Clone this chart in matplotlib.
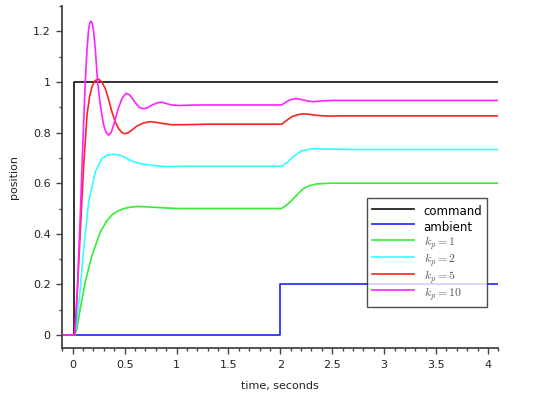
import matplotlib
matplotlib.use("Agg")
import matplotlib.pyplot as plt
from matplotlib.ticker import MultipleLocator, FuncFormatter

plt.rcParams['font.family'] = ['DejaVu Sans']
plt.rcParams['mathtext.fontset'] = 'cm'

# step inputs
t_command = [-0.1, 0.01, 0.01, 4.1]
command = [0, 0, 1, 1]

t_ambient = [-0.1, 2.0, 2.0, 4.1]
ambient = [0, 0, 0.2, 0.2]

# responses
t_kp1 = [-0.1, 0.019, 0.041, 0.073, 0.121, 0.186, 0.266, 0.33, 0.379, 0.43, 0.48,
         0.54, 0.617, 0.7, 0.776, 0.9, 1.03, 1.3, 2.013, 2.065, 2.125, 2.17, 2.22,
         2.28, 2.35, 2.48, 2.7, 4.1]
pos_kp1 = [0, 0, 0.026, 0.105, 0.21, 0.315, 0.407, 0.452, 0.475, 0.489, 0.498,
           0.504, 0.508, 0.507, 0.505, 0.502, 0.5, 0.5, 0.5, 0.515, 0.538, 0.558, 0.578,
           0.59, 0.597, 0.6, 0.6, 0.6]

t_kp2 = [-0.1, 0.019, 0.041, 0.073, 0.106, 0.154, 0.218, 0.282, 0.33, 0.379, 0.417,
         0.46, 0.51, 0.568, 0.64, 0.73, 0.89, 1.1, 2.013, 2.06, 2.12, 2.2, 2.3, 2.45,
         2.7, 4.1]
pos_kp2 = [0, 0, 0.053, 0.184, 0.342, 0.526, 0.645, 0.698, 0.71, 0.714, 0.714,
           0.71, 0.7, 0.688, 0.678, 0.672, 0.666, 0.667, 0.667, 0.68, 0.703, 0.727, 0.736, 0.735,
           0.733, 0.733]

t_kp5 = [-0.1, 0.019, 0.041, 0.073, 0.106, 0.138, 0.162, 0.186, 0.215, 0.247, 0.28,
         0.314, 0.345, 0.379, 0.41, 0.443, 0.475, 0.497, 0.53, 0.57, 0.62, 0.68, 0.745,
         0.81, 0.88, 0.95, 1.05, 1.3, 2.013, 2.06, 2.11, 2.16, 2.22, 2.28, 2.35, 2.46,
         2.6, 4.1]
pos_kp5 = [0, 0, 0.145, 0.408, 0.672, 0.87, 0.94, 0.981, 1.005, 1.012, 1.0,
           0.974, 0.932, 0.88, 0.842, 0.815, 0.8, 0.796, 0.798, 0.81, 0.826, 0.838, 0.843,
           0.84, 0.835, 0.831, 0.831, 0.833, 0.833, 0.848, 0.862, 0.87, 0.874, 0.872, 0.868, 0.865,
           0.866, 0.866]

t_kp10 = [-0.1, 0.019, 0.032, 0.048, 0.073, 0.096, 0.121, 0.138, 0.154, 0.166, 0.176,
          0.188, 0.2, 0.218, 0.24, 0.266, 0.298, 0.322, 0.347, 0.37, 0.395, 0.435, 0.475,
          0.514, 0.55, 0.6, 0.64, 0.68, 0.72, 0.77, 0.82, 0.857, 0.9, 0.95, 1.02, 1.2,
          1.5, 2.013, 2.06, 2.1, 2.15, 2.2, 2.27, 2.32, 2.4, 2.5, 2.6, 4.1]
pos_kp10 = [0, 0, 0.079, 0.21, 0.474, 0.738, 1.0, 1.13, 1.21, 1.235, 1.24,
            1.232, 1.205, 1.13, 1.0, 0.909, 0.83, 0.8, 0.79, 0.8, 0.83, 0.89, 0.935,
            0.955, 0.948, 0.92, 0.9, 0.894, 0.898, 0.91, 0.918, 0.92, 0.915, 0.909, 0.907, 0.909,
            0.909, 0.909, 0.922, 0.93, 0.934, 0.931, 0.924, 0.922, 0.925, 0.927, 0.927, 0.927]

fig = plt.figure(figsize=(5.4, 3.95), dpi=100)
ax = fig.add_axes([0.1154, 0.1197, 0.8074, 0.8651])

lw = 1.2
ax.plot(t_command, command, color='#111111', lw=lw, label='command')
ax.plot(t_ambient, ambient, color='#2020ff', lw=lw, label='ambient')
ax.plot(t_kp1, pos_kp1, color='#33ee33', lw=lw, label='$k_p = 1$')
ax.plot(t_kp2, pos_kp2, color='#33ffff', lw=lw, label='$k_p = 2$')
ax.plot(t_kp5, pos_kp5, color='#ff2222', lw=lw, label='$k_p = 5$')
ax.plot(t_kp10, pos_kp10, color='#ff22ff', lw=lw, label='$k_p = 10$')

ax.set_xlim(-0.1, 4.1)
ax.set_ylim(-0.05, 1.3)

for side in ['top', 'right']:
    ax.spines[side].set_visible(False)
for side in ['left', 'bottom']:
    ax.spines[side].set_color('#444444')
    ax.spines[side].set_linewidth(1.3)

ax.xaxis.set_major_locator(MultipleLocator(0.5))
ax.xaxis.set_minor_locator(MultipleLocator(0.1))
ax.yaxis.set_major_locator(MultipleLocator(0.2))
ax.yaxis.set_minor_locator(MultipleLocator(0.1))
fmt = FuncFormatter(lambda v, _: '%g' % round(v, 3))
ax.xaxis.set_major_formatter(fmt)
ax.yaxis.set_major_formatter(fmt)
ax.tick_params(which='major', length=4.5, width=1.0, color='#444444',
               labelsize=8, labelcolor='#222222', pad=4)
ax.tick_params(which='minor', length=2.5, width=1.0, color='#444444')

ax.set_xlabel('time, seconds', fontsize=8, color='#222222', labelpad=8)
ax.set_ylabel('position', fontsize=8, color='#222222', labelpad=10)

leg = ax.legend(loc='lower right', bbox_to_anchor=(0.974, 0.119), fontsize=8.5,
                frameon=True, fancybox=False, edgecolor='#222222',
                handlelength=3.6, handleheight=1.9, labelspacing=-0.15,
                borderpad=0.38, handletextpad=0.8, borderaxespad=0)
leg.get_frame().set_linewidth(1.0)
for txt in leg.get_texts()[2:]:
    txt.set_color('#555555')

fig.savefig('out.png', dpi=100)
